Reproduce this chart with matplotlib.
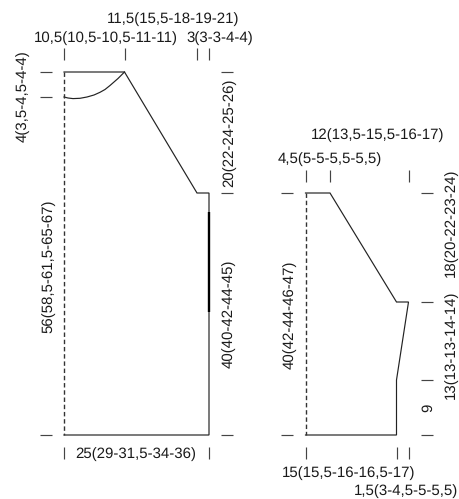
import matplotlib
matplotlib.use("Agg")
import matplotlib.pyplot as plt
import numpy as np

plt.rcParams['font.family'] = ['Liberation Sans', 'DejaVu Sans']
plt.rcParams['text.hinting'] = 'no_hinting'
plt.rcParams['text.hinting_factor'] = 1

# measured outlines
body_x = [64, 124.5, 197, 209, 209, 64]
body_y = [72, 72, 193, 193, 435, 435]
body_fold_x = [64, 64]
body_fold_y = [72, 435]
neck_x = [64, 68, 73, 80, 87, 94, 100, 105, 110, 114, 118, 121, 124.5]
neck_y = [97, 98, 98.6, 98.3, 97, 95, 92.3, 89.5, 85.5, 82, 78.5, 75.5, 72]
slit_x = [209, 209]
slit_y = [212, 312]

sleeve_x = [305.5, 330, 396.5, 408.5, 396.5, 396.5, 305.5]
sleeve_y = [193, 193, 302, 302, 380, 435, 435]
sleeve_fold_x = [305.5, 305.5]
sleeve_fold_y = [193, 435]

# dimension ticks: (x0, y0, x1, y1)
tick_segments = [
    (64, 48, 64, 60), (124.5, 48, 124.5, 60), (197, 48, 197, 60), (209, 48, 209, 60),
    (40, 72, 52, 72), (40, 97, 52, 97), (221, 72, 233, 72), (221, 193, 233, 193),
    (221, 435, 233, 435), (40, 435, 52, 435), (64, 447, 64, 459), (209, 447, 209, 459),
    (305.5, 170, 305.5, 182), (330, 170, 330, 182), (408.5, 170, 408.5, 182),
    (281, 193, 293, 193), (281, 435, 293, 435),
    (421, 193, 433, 193), (421, 302, 433, 302), (421, 380, 433, 380), (421, 435, 433, 435),
    (305.5, 447, 305.5, 459), (396.5, 447, 396.5, 459), (408.5, 447, 408.5, 459),
]

# labels: text, x, y, rotation
labels = [
    ("11,5(15,5-18-19-21)", 173, 19, 0),
    ("10,5(10,5-10,5-11-11)", 106, 38, 0),
    ("3(3-3-4-4)", 219.5, 38, 0),
    ("4(3,5-4,5-4-4)", 23, 96, 90),
    ("20(22-24-25-26)", 229, 133, 90),
    ("56(58,5-61,5-65-67)", 48, 266, 90),
    ("40(40-42-44-45)", 229, 314, 90),
    ("25(29-31,5-34-36)", 136, 454, 0),
    ("12(13,5-15,5-16-17)", 378, 135, 0),
    ("4,5(5-5-5,5-5,5)", 330, 159, 0),
    ("40(42-44-46-47)", 290, 315, 90),
    ("18(20-22-23-24)", 451, 223, 90),
    ("13(13-13-14-14)", 451, 345, 90),
    ("9", 428, 408, 90),
    ("15(15,5-16-16,5-17)", 348.5, 473, 0),
    ("1,5(3-4,5-5-5,5)", 406, 491, 0),
]

fig = plt.figure(figsize=(4.59, 4.99), dpi=100)
ax = fig.add_axes([0, 0, 1, 1])
ax.set_xlim(0, 459)
ax.set_ylim(499, 0)
ax.axis("off")

ink = "#222222"
lw = 0.85
fold_color = "#333333"
ax.plot(body_x, body_y, color=ink, lw=lw, solid_joinstyle="miter")
ax.plot(neck_x, neck_y, color=ink, lw=lw)
ax.plot(body_fold_x, body_fold_y, color=fold_color, lw=1.0, dashes=(3.2, 2.0))
ax.plot(slit_x, slit_y, color="black", lw=1.7, solid_capstyle="butt")
ax.plot(sleeve_x, sleeve_y, color=ink, lw=lw, solid_joinstyle="miter")
ax.plot(sleeve_fold_x, sleeve_fold_y, color=fold_color, lw=1.0, dashes=(3.2, 2.0))

for x0, y0, x1, y1 in tick_segments:
    ax.plot([x0, x1], [y0, y1], color="#444444", lw=0.85, solid_capstyle="butt")

for s, x, y, r in labels:
    ax.text(x, y, s, rotation=r, ha="center", va="center", fontsize=10.5, color="#1a1a1a")

fig.savefig("out.png", dpi=100)
